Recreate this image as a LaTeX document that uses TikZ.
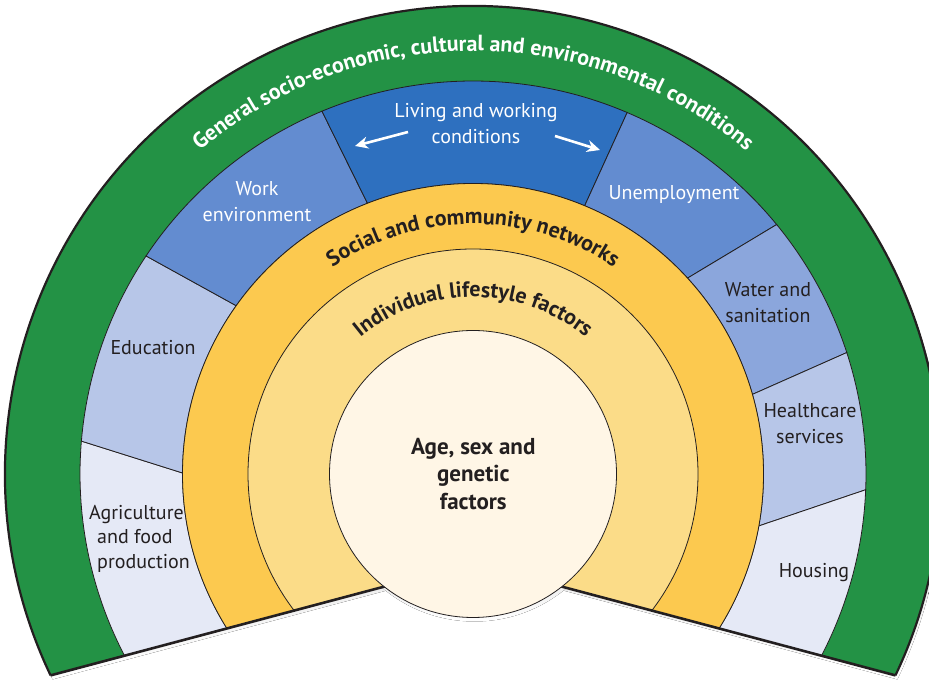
\documentclass[tikz,border=0pt]{standalone}
\usepackage{fontspec}
\setmainfont{PT Sans}
\usetikzlibrary{decorations.text,arrows.meta}
\definecolor{ink}{HTML}{231F20}
\definecolor{rimgreen}{HTML}{239245}
\definecolor{livblue}{HTML}{2E70BF}
\definecolor{midblue}{HTML}{638CD0}
\definecolor{watblue}{HTML}{8BA6DC}
\definecolor{litblue}{HTML}{B7C6E8}
\definecolor{palblue}{HTML}{E5E9F6}
\definecolor{socyel}{HTML}{FCC94F}
\definecolor{indyel}{HTML}{FBDC88}
\definecolor{coreclr}{HTML}{FFF6E6}
\definecolor{shade}{HTML}{A3A3A3}
\newcommand\mkcell[5]{\path[cellsty,fill=#1] (#2:393pt) arc[start angle=#2,end angle=#3,radius=393pt] -- (#4:290.5pt) arc[start angle=#4,end angle=#5,radius=290.5pt] -- cycle;}
\newcommand\ringfont{\fontsize{22}{22}\selectfont\bfseries}
\begin{document}
\begin{tikzpicture}[x=1pt,y=1pt,
  cellsty/.style={draw=ink,line width=0.8pt},
  lab/.style={font=\fontsize{20}{26}\selectfont, text=ink, align=center, inner sep=0pt},
  wlab/.style={lab,text=white},
  warrow/.style={white,line width=2.6pt,-{Stealth[length=13pt,width=12pt]}}]
\useasboundingbox (0,0) rectangle (929,687);
\clip (0,0) rectangle (929,687);
\begin{scope}[shift={(473,213)}]
  % shadow
  \fill[shade,shift={(2,-4)}] (205.49:468pt) arc[start angle=205.49,end angle=-25.49,radius=468pt] -- (0,-89) -- cycle;
  \fill[shade] (1.5,-4) circle[radius=143.5pt];
  \begin{scope}
    \clip (-600,-248.6) -- (0,-89) -- (600,-248.6) -- (600,600) -- (-600,600) -- cycle;
    \fill[rimgreen] (0,0) circle[radius=468pt];
    \mkcell{palblue}{215}{175.2}{179.8}{215}
    \mkcell{litblue}{175.2}{146.3}{144.6}{179.8}
    \mkcell{midblue}{146.3}{112.6}{111.3}{144.6}
    \mkcell{livblue}{112.6}{66.9}{67.4}{111.3}
    \mkcell{midblue}{66.9}{39.4}{42.4}{67.4}
    \mkcell{watblue}{39.4}{18.0}{15.9}{42.4}
    \mkcell{litblue}{18.0}{-2.3}{-10.3}{15.9}
    \mkcell{palblue}{-2.3}{-35}{-35}{-10.3}
    \path[cellsty,fill=socyel] (0,0) circle[radius=290.5pt];
    \path[cellsty,fill=indyel] (0,0) circle[radius=225pt];
  \end{scope}
  \draw[ink,line width=2.2pt] (205.49:468pt) arc[start angle=205.49,end angle=-25.49,radius=468pt];
  \draw[ink,line width=2.6pt,line join=round] (-422.5,-201.4) -- (0,-89) -- (422.5,-201.4);
  \path[cellsty,fill=coreclr] (0,0) circle[radius=143.5pt];
  % ring texts
  \path[decorate,decoration={text along path,text align=center,
    text={|\ringfont\color{white}|General socio-economic, cultural and environmental conditions}}]
    (180:423pt) arc[start angle=180,end angle=0,radius=423pt];
  \path[decorate,decoration={text along path,text align=center,
    text={|\ringfont\color{ink}|Social and community networks}}]
    (180:250pt) arc[start angle=180,end angle=0,radius=250pt];
  \path[decorate,decoration={text along path,text align=center,
    text={|\ringfont\color{ink}|Individual lifestyle factors}}]
    (180:177pt) arc[start angle=180,end angle=0,radius=177pt];
  % labels
  \node[wlab] (living) at (3,350) {Living and working\\conditions};
  \node[wlab] (work) at (-216,272.5) {Work\\environment};
  \node[wlab] (unemp) at (201,279) {Unemployment};
  \node[lab] (water) at (295,171.5) {Water and\\sanitation};
  \node[lab] (health) at (337,50) {Healthcare\\services};
  \node[lab] (housing) at (341,-99) {Housing};
  \node[lab] (edu) at (-320,126) {Education};
  \node[lab,anchor=base west] (agri1) at (-384,-46) {Agriculture};
  \node[lab,anchor=base west] (agri2) at (-376,-69.5) {and food};
  \node[lab,anchor=base west] (agri3) at (-376,-94.3) {production};
  \node[lab,font=\fontsize{23}{27.5}\selectfont\bfseries] (core) at (0.3,0) {Age, sex and\\genetic\\factors};
  % arrows
  \coordinate (al1) at (-65,342);
  \coordinate (al2) at (-118,328);
  \coordinate (ar1) at (82,338);
  \coordinate (ar2) at (127,324);
  \draw[warrow] (al1) -- (al2);
  \draw[warrow] (ar1) -- (ar2);
\end{scope}
\end{tikzpicture}
\end{document}
